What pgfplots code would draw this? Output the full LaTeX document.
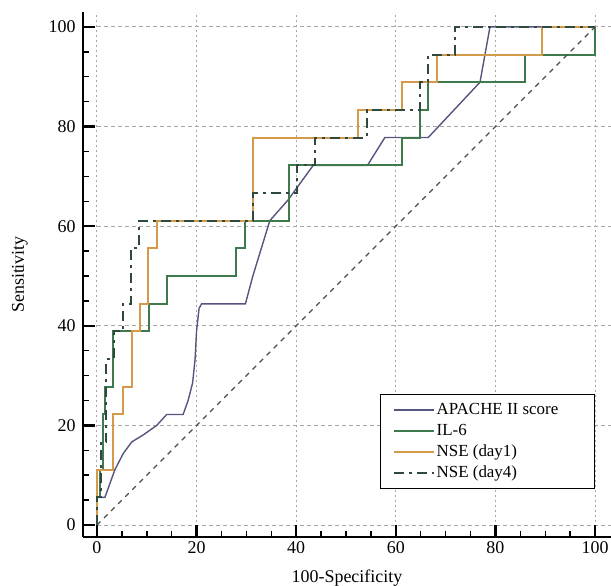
\documentclass[border=0pt]{standalone}
\usepackage{fontspec}
\setmainfont{Liberation Serif}
\usepackage{pgfplots}
\pgfplotsset{compat=1.18}
\definecolor{apache}{HTML}{55557F}
\definecolor{ilsix}{HTML}{3F7A4C}
\definecolor{nseone}{HTML}{D49A4A}
\definecolor{nsefour}{HTML}{2F4A3C}
\begin{document}
\begin{tikzpicture}
\begin{axis}[
  scale only axis, width=528bp, height=525bp,
  xmin=-2.8, xmax=103.2, ymin=-2.4, ymax=103,
  axis lines*=left,
  axis line style={line width=2.5bp, black},
  xtick={0,20,...,100}, ytick={0,20,...,100},
  minor tick num=3,
  tick align=inside,
  major tick length=12bp, minor tick length=6bp,
  every major tick/.style={line width=2.5bp, black},
  every minor tick/.style={line width=1.5bp, black},
  grid=major,
  x grid style={gray!70, line width=1bp, dash pattern=on 2bp off 3bp},
  y grid style={gray!70, line width=1bp, dash pattern=on 4bp off 3bp},
  /pgf/number format/assume math mode=true,
  tick label style={font=\fontsize{18}{20}\selectfont},
  yticklabel style={xshift=-4bp},
  xticklabel style={yshift=-1bp},
  label style={font=\fontsize{18}{20}\selectfont},
  xlabel={100-Specificity},
  ylabel={Sensitivity},
  xlabel style={yshift=-9bp},
  ylabel style={yshift=14bp},
  legend style={at={(axis cs:100,7.2)}, anchor=south east, draw=black, line width=1.5bp,
    font=\fontsize{17}{21}\selectfont, inner xsep=12bp, inner ysep=7bp, row sep=4bp},
  legend cell align=left,
  legend image code/.code={\draw[#1] (0bp,0bp) -- (40bp,0bp);},
]
\addplot[apache, line width=1.4bp] coordinates {
(0,0)(0,5.56)(1.6,5.56)(3.6,11.1)(5.3,14.4)(7,16.7)(9.3,18.1)(12,20)(14,22.2)(17.3,22.2)
(18.3,25)(19.2,28.5)(19.7,33.3)(20,39)(20.5,43.5)(21,44.4)(29.8,44.4)(31.3,50)(34.7,61.1)
(38.4,65.3)(43.4,72.2)(54.3,72.2)(57.8,77.8)(66.5,77.8)(76.9,88.9)(78.9,100)(100,100)};
\addlegendentry{APACHE II score\hspace*{22bp}}
\addplot[ilsix, line width=2bp] coordinates {
(0,0)(0,5.56)(0.6,5.56)(0.6,11.1)(1.2,11.1)(1.2,22.2)(1.7,22.2)(1.7,27.8)(3.3,27.8)
(3.3,38.9)(10.4,38.9)(10.4,44.4)(14,44.4)(14,50)(28,50)(28,55.6)(29.7,55.6)(29.7,61.1)
(38.5,61.1)(38.5,72.2)(61.2,72.2)(61.2,77.8)(64.9,77.8)(64.9,83.3)(66.5,83.3)(66.5,88.9)
(86,88.9)(86,94.4)(100,94.4)(100,100)};
\addlegendentry{IL-6}
\addplot[nseone, line width=2bp] coordinates {
(0,0)(0,11.1)(3.3,11.1)(3.3,22.2)(5.3,22.2)(5.3,27.8)(7,27.8)(7,38.9)(8.6,38.9)(8.6,44.4)
(10.3,44.4)(10.3,55.6)(12,55.6)(12,61.1)(31.4,61.1)(31.4,77.8)(52.4,77.8)(52.4,83.3)
(61.2,83.3)(61.2,88.9)(68.2,88.9)(68.2,94.4)(89.3,94.4)(89.3,100)(100,100)};
\addlegendentry{NSE (day1)}
\addplot[nsefour, line width=2bp, dash pattern=on 10bp off 5bp on 3bp off 5bp] coordinates {
(0,0)(0,5.56)(0.8,5.56)(0.8,16.7)(1.9,16.7)(1.9,33.3)(3.5,33.3)(3.5,38.9)(5.2,38.9)(5.2,44.4)
(6.8,44.4)(6.8,55.6)(8.5,55.6)(8.5,61.1)(31.4,61.1)(31.4,66.7)(40.2,66.7)(40.2,72.2)
(43.7,72.2)(43.7,77.8)(54.2,77.8)(54.2,83.3)(64.9,83.3)(64.9,88.9)(66.5,88.9)(66.5,94.4)
(71.9,94.4)(71.9,100)(100,100)};
\addlegendentry{NSE (day4)}
\addplot[black!70, line width=1.3bp, dash pattern=on 5bp off 5bp, forget plot] coordinates {(0,0)(100,100)};
\end{axis}
\pgfresetboundingbox
\path[use as bounding box] ([shift={(-83bp,-49bp)}]current axis.south west) rectangle ([shift={(0bp,12bp)}]current axis.north east);
\end{tikzpicture}
\end{document}
